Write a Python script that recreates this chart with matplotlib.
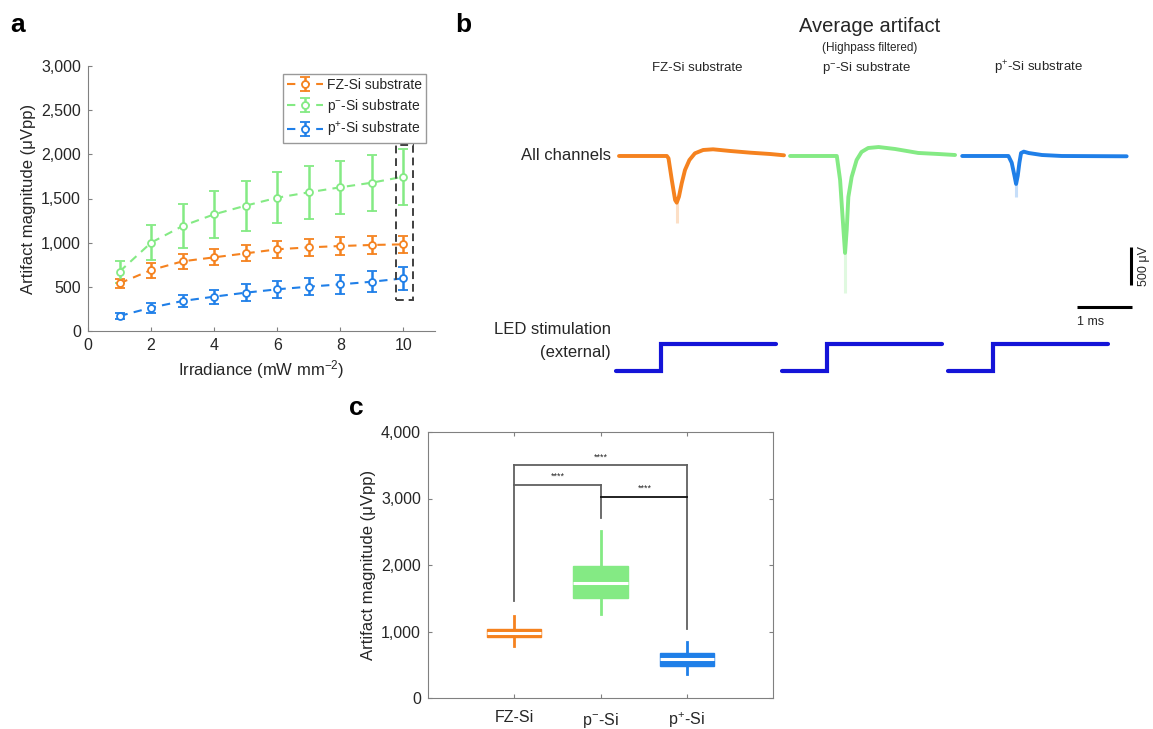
"""
optogenetic artifact figure: a) magnitude vs irradiance, b) average traces, c) box plot
"""

import matplotlib
matplotlib.use('Agg')
import matplotlib.pyplot as plt
from matplotlib.patches import Rectangle
from matplotlib.ticker import StrMethodFormatter

plt.rcParams['font.family'] = ['Liberation Sans', 'DejaVu Sans']
plt.rcParams['mathtext.fontset'] = 'custom'
plt.rcParams['mathtext.rm'] = 'Liberation Sans'
plt.rcParams['mathtext.it'] = 'Liberation Sans:italic'
plt.rcParams['mathtext.bf'] = 'Liberation Sans:bold'

# colours
c_fz = '#F5821F'
c_pm = '#84EA84'
c_pp = '#1F7FE8'
c_led = '#1414D8'
c_axis = '#808080'
c_text = '#262626'

# ---- panel a data ----
irradiance = [1, 2, 3, 4, 5, 6, 7, 8, 9, 10]
fz_mean = [540, 690, 789, 834, 879, 925, 947, 962, 974, 981]
fz_err = [50, 85, 85, 90, 90, 95, 95, 100, 100, 100]
pm_mean = [672, 1000, 1189, 1321, 1419, 1509, 1570, 1627, 1679, 1747]
pm_err = [125, 195, 245, 268, 283, 287, 298, 302, 315, 315]
pp_mean = [170, 264, 340, 389, 434, 472, 502, 528, 558, 596]
pp_err = [30, 57, 70, 79, 94, 98, 98, 104, 117, 128]
series_labels = ['FZ-Si substrate', 'p$^{-}$-Si substrate', 'p$^{+}$-Si substrate']
highlight_x = [9.76, 10.29]
highlight_y = [351, 2106]

# ---- panel b data (time in ms from segment start, voltage in uV) ----
fz_t = [0, 0.87, 0.90, 0.96, 1.02, 1.05, 1.09, 1.14, 1.20, 1.28, 1.38, 1.53, 1.71, 2.02, 2.38, 2.75, 3.0]
fz_v = [0, 0, -30, -316, -579, -614, -535, -360, -184, -53, 35, 79, 88, 66, 44, 26, 9]
pm_t = [0, 0.85, 0.91, 0.95, 1.0, 1.03, 1.06, 1.12, 1.21, 1.30, 1.42, 1.61, 1.91, 2.33, 2.70, 3.0]
pm_v = [0, 0, -316, -750, -1276, -974, -540, -276, -53, 53, 105, 118, 92, 40, 26, 13]
pp_t = [0, 0.84, 0.90, 0.95, 0.98, 1.01, 1.04, 1.07, 1.12, 1.21, 1.45, 1.81, 2.99]
pp_v = [0, 0, -88, -259, -368, -259, -88, 39, 57, 39, 13, 0, -4]
dip_time = [1.05, 1.0, 0.98]
dip_tail = [-886, -1800, -544]          # faded spread below the mean dip
trace_offsets = [0, 3.11, 6.24]
led_t = [0, 0.82, 0.82, 2.91]
led_level = [0, 0, 1, 1]
led_offsets = [-0.055, 2.964, 5.982]
scalebar_ms = 1
scalebar_uv = 500

# ---- panel c data ----
groups = ['FZ-Si', 'p$^{-}$-Si', 'p$^{+}$-Si']
box_whislo = [785, 1260, 360]
box_q1 = [910, 1510, 485]
box_med = [970, 1735, 585]
box_q3 = [1045, 1985, 670]
box_whishi = [1235, 2510, 835]
# brackets: (left group, right group, height, left leg end, right leg end, colour)
brackets = [(1, 3, 3510, 1460, 1045, '#606060'),
            (1, 2, 3210, None, 2710, '#606060'),
            (2, 3, 3025, None, None, '#101010')]
star_x = [2, 1.5, 2.51]
star_y = [3560, 3265, 3080]

W, H = 1153, 729


def px_rect(left, top, right, bottom):
    return [left / W, 1 - bottom / H, (right - left) / W, (bottom - top) / H]


fig = plt.figure(figsize=(W / 100, H / 100), dpi=100)

# ================= panel a =================
ax1 = fig.add_axes(px_rect(88, 66, 435, 331))
for m, e, c, lab in zip([fz_mean, pm_mean, pp_mean], [fz_err, pm_err, pp_err],
                        [c_fz, c_pm, c_pp], series_labels):
    ax1.errorbar(irradiance, m, yerr=e, color=c, ls=(0, (4, 3)), lw=1.5,
                 marker='o', ms=5, mfc='white', mec=c, mew=1.3,
                 elinewidth=1.8, capsize=3.5, capthick=1.8, label=lab)
ax1.add_patch(Rectangle((highlight_x[0], highlight_y[0]), highlight_x[1] - highlight_x[0],
                        highlight_y[1] - highlight_y[0], fill=False, ec='#404040',
                        ls=(0, (4, 2.5)), lw=1.4, zorder=5))
ax1.set_xlim(0, 11)
ax1.set_ylim(0, 3000)
ax1.set_xticks([0, 2, 4, 6, 8, 10])
ax1.set_yticks([0, 500, 1000, 1500, 2000, 2500, 3000])
ax1.yaxis.set_major_formatter(StrMethodFormatter('{x:,.0f}'))
ax1.spines['top'].set_visible(False)
ax1.spines['right'].set_visible(False)
for s in ['left', 'bottom']:
    ax1.spines[s].set_color(c_axis)
ax1.tick_params(direction='in', length=3, color=c_axis, labelsize=11.5,
                labelcolor=c_text, pad=5)
ax1.set_xlabel('Irradiance (mW mm$^{-2}$)', fontsize=12, color=c_text, labelpad=4)
ax1.set_ylabel('Artifact magnitude (μVpp)', fontsize=12, color=c_text, labelpad=4)
leg = ax1.legend(loc='upper right', bbox_to_anchor=(0.975, 0.97), fontsize=10,
                 frameon=True, fancybox=False, edgecolor=c_axis, handlelength=2.6,
                 borderpad=0.3, labelspacing=0.35, handletextpad=0.3, borderaxespad=0)
for t in leg.get_texts():
    t.set_color(c_text)

# ================= panel b =================
b_rect = px_rect(600, 60, 1153, 390)
ax2 = fig.add_axes(b_rect)
ax2.set_xlim(-0.3455, 9.709)
ax2.set_ylim(-3079, 1263)
ax2.axis('off')
for tt, vv, c, off, dt, tail, dv in zip([fz_t, pm_t, pp_t], [fz_v, pm_v, pp_v],
                                        [c_fz, c_pm, c_pp], trace_offsets,
                                        dip_time, dip_tail, [min(fz_v), min(pm_v), min(pp_v)]):
    ax2.plot([dt + off, dt + off], [dv, tail], color=c, lw=2.2, alpha=0.25,
             solid_capstyle='butt')
    ax2.plot([t + off for t in tt], vv, color=c, lw=2.8, solid_joinstyle='round',
             solid_capstyle='round')

# scale bars
sb_x0, sb_y0 = 8.327, -1987
ax2.plot([sb_x0, sb_x0 + scalebar_ms], [sb_y0, sb_y0], color='k', lw=2.2,
         solid_capstyle='butt')
ax2.plot([9.309, 9.309], [-1197, -1197 - scalebar_uv], color='k', lw=2.2,
         solid_capstyle='butt')
ax2.text(sb_x0, sb_y0 - 120, '1 ms', fontsize=9, color=c_text, ha='left', va='top')
ax2.text(9.43, -1197 - scalebar_uv / 2, '500 μV', fontsize=9, color=c_text,
         rotation=90, ha='left', va='center')

ax3 = fig.add_axes(b_rect)
ax3.set_xlim(-0.3455, 9.709)
ax3.set_ylim(-0.704, 11.52)
ax3.axis('off')
for off in led_offsets:
    ax3.plot([t + off for t in led_t], led_level, color=c_led, lw=3,
             solid_joinstyle='miter', solid_capstyle='round')

fig.text(870 / W, 1 - 26 / H, 'Average artifact', fontsize=14.5, color=c_text,
         ha='center', va='center')
fig.text(870 / W, 1 - 48 / H, '(Highpass filtered)', fontsize=8.5, color=c_text,
         ha='center', va='center')
for xp, lab in zip([697, 867, 1039], series_labels):
    fig.text(xp / W, 1 - 68 / H, lab, fontsize=9.5, color=c_text, ha='center', va='center')
fig.text(611 / W, 1 - 156 / H, 'All channels', fontsize=12, color=c_text,
         ha='right', va='center')
fig.text(611 / W, 1 - 330 / H, 'LED stimulation', fontsize=12, color=c_text,
         ha='right', va='center')
fig.text(611 / W, 1 - 352 / H, '(external)', fontsize=12, color=c_text,
         ha='right', va='center')

# ================= panel c =================
ax4 = fig.add_axes(px_rect(428, 432, 773, 698))
colors = [c_fz, c_pm, c_pp]
stats = []
for i in range(3):
    stats.append(dict(whislo=box_whislo[i], q1=box_q1[i], med=box_med[i],
                      q3=box_q3[i], whishi=box_whishi[i], label=groups[i]))
bp = ax4.bxp(stats, positions=[1, 2, 3], widths=0.63, patch_artist=True,
             showcaps=False, showfliers=False,
             medianprops=dict(color='white', lw=2.2))
for i, c in enumerate(colors):
    bp['boxes'][i].set_facecolor(c)
    bp['boxes'][i].set_edgecolor(c)
    bp['whiskers'][2 * i].set(color=c, lw=2)
    bp['whiskers'][2 * i + 1].set(color=c, lw=2)

for x1, x2, yb, l1, l2, c in brackets:
    ax4.plot([x1, x2], [yb, yb], color=c, lw=1.3)
    if l1 is not None:
        ax4.plot([x1, x1], [yb, l1], color='#606060', lw=1.3)
    if l2 is not None:
        ax4.plot([x2, x2], [yb, l2], color='#606060', lw=1.3)
for sx, sy in zip(star_x, star_y):
    ax4.text(sx, sy, '****', fontsize=6.5, color=c_text, ha='center', va='bottom')

ax4.set_xlim(0, 4)
ax4.set_ylim(0, 4000)
ax4.set_yticks([0, 1000, 2000, 3000, 4000])
ax4.yaxis.set_major_formatter(StrMethodFormatter('{x:,.0f}'))
ax4.set_xticks([1, 2, 3])
ax4.set_xticklabels(groups)
for s in ax4.spines.values():
    s.set_color(c_axis)
ax4.tick_params(direction='in', length=3, color=c_axis, labelsize=11.5,
                labelcolor=c_text, top=True, right=True, pad=5)
ax4.tick_params(axis='x', pad=9)
ax4.set_ylabel('Artifact magnitude (μVpp)', fontsize=12, color=c_text, labelpad=4)

# panel letters
fig.text(10 / W, 1 - 25 / H, 'a', fontsize=19, fontweight='bold', va='center', ha='left')
fig.text(455 / W, 1 - 25 / H, 'b', fontsize=19, fontweight='bold', va='center', ha='left')
fig.text(349 / W, 1 - 408 / H, 'c', fontsize=19, fontweight='bold', va='center', ha='left')

fig.savefig('out.png', dpi=100)
plt.close(fig)
